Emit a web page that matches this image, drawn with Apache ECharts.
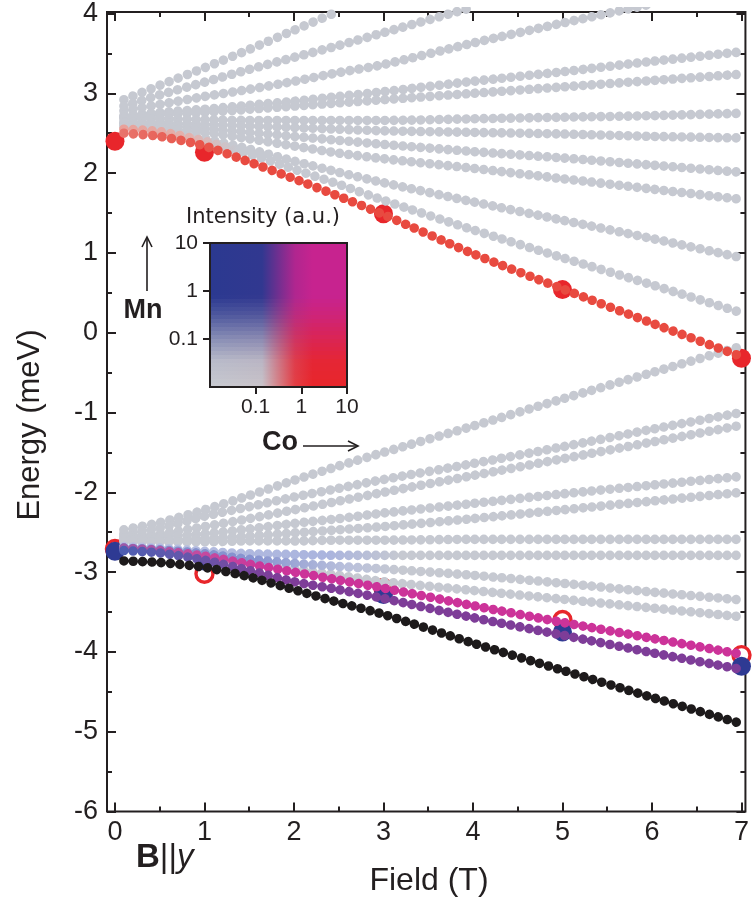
<!DOCTYPE html>
<html>
<head>
<meta charset="utf-8">
<script src="https://cdn.jsdelivr.net/npm/echarts@6.0.0/dist/echarts.min.js"></script>
<style>
  html, body { margin: 0; padding: 0; background: #fff; }
  #chart { width: 752px; height: 904px; }
</style>
</head>
<body>
<div id="chart"></div>
<script>
const fieldKnots = [0.1, 0.5, 1, 1.5, 2, 2.5, 3, 4, 5, 6, 7];

// upper manifold, energy (meV)
const up1  = [2.92, 3.10, 3.32, 3.55, 3.79, 4.03, null, null, null, null, null];
const up2  = [2.84, 2.98, 3.14, 3.30, 3.45, 3.60, 3.76, 4.08, null, null, null];
const up3  = [2.78, 2.86, 2.96, 3.05, 3.15, 3.26, 3.36, 3.63, 3.88, 4.12, null];
const up4  = [2.72, 2.76, 2.80, 2.85, 2.90, 2.96, 3.02, 3.15, 3.27, 3.40, 3.52];
const up5  = [2.70, 2.73, 2.76, 2.80, 2.84, 2.88, 2.92, 3.00, 3.08, 3.16, 3.24];
const up6  = [2.68, 2.68, 2.67, 2.66, 2.66, 2.66, 2.66, 2.68, 2.70, 2.72, 2.75];
const up7  = [2.64, 2.63, 2.61, 2.59, 2.57, 2.55, 2.53, 2.51, 2.49, 2.46, 2.44];
const up8  = [2.62, 2.60, 2.56, 2.51, 2.46, 2.41, 2.36, 2.27, 2.19, 2.10, 2.01];
const up9  = [2.60, 2.57, 2.51, 2.43, 2.34, 2.25, 2.18, 2.06, 1.93, 1.80, 1.67];
const up10 = [2.57, 2.53, 2.43, 2.30, 2.15, 2.01, 1.88, 1.64, 1.41, 1.18, 0.94];
const up11 = [2.55, 2.52, 2.40, 2.24, 2.05, 1.86, 1.66, 1.29, 0.94, 0.60, 0.25];
const coLevel = [2.50, 2.46, 2.34, 2.14, 1.93, 1.71, 1.48, 0.99, 0.55, 0.12, -0.30];

// lower manifold, energy (meV)
const low1 = [-2.47, -2.38, -2.22, -2.04, -1.85, -1.67, -1.50, -1.17, -0.83, -0.50, -0.17];
const low2 = [-2.52, -2.45, -2.30, -2.18, -2.06, -1.95, -1.84, -1.64, -1.43, -1.21, -1.00];
const low3 = [-2.55, -2.52, -2.43, -2.33, -2.22, -2.11, -2.00, -1.79, -1.58, -1.37, -1.16];
const low4 = [-2.58, -2.56, -2.52, -2.46, -2.39, -2.33, -2.26, -2.14, -2.02, -1.91, -1.80];
const low5 = [-2.60, -2.60, -2.58, -2.55, -2.51, -2.47, -2.43, -2.33, -2.22, -2.11, -2.00];
const low6 = [-2.62, -2.62, -2.62, -2.61, -2.61, -2.60, -2.60, -2.59, -2.59, -2.59, -2.59];
const low7 = [-2.68, -2.70, -2.74, -2.77, -2.78, -2.79, -2.79, -2.79, -2.79, -2.79, -2.79];
const low8 = [-2.70, -2.72, -2.77, -2.84, -2.89, -2.93, -2.96, -3.04, -3.14, -3.25, -3.35];
const low9 = [-2.71, -2.74, -2.80, -2.88, -2.96, -3.04, -3.12, -3.23, -3.34, -3.45, -3.56];
const magentaLevel = [-2.70, -2.73, -2.80, -2.90, -3.00, -3.10, -3.20, -3.42, -3.63, -3.83, -4.03];
const purpleLevel  = [-2.73, -2.76, -2.85, -2.98, -3.12, -3.22, -3.33, -3.57, -3.79, -4.01, -4.22];
const blackLevel   = [-2.86, -2.88, -2.94, -3.06, -3.22, -3.38, -3.53, -3.89, -4.23, -4.57, -4.90];

// measured peaks
const peakField = [0, 1, 3, 5, 7];
const coPeakUp  = [2.40, 2.26, 1.49, 0.54, -0.32];
const coPeakLow = [-2.71, -3.02, -3.20, -3.60, -4.04];
const mnPeakLow = [-2.74, -2.86, -3.28, -3.75, -4.18];

// tick labels
const fieldTicks = [0, 1, 2, 3, 4, 5, 6, 7];
const fieldMinor = [0.5, 1.5, 2.5, 3.5, 4.5, 5.5, 6.5];
const energyTicks = [-6, -5, -4, -3, -2, -1, 0, 1, 2, 3, 4];
const energyMinor = [-5.5, -4.5, -3.5, -2.5, -1.5, -0.5, 0.5, 1.5, 2.5, 3.5];
const keyTicks = [0.1, 1, 10];

const ink = '#231f20';
const font = '"Liberation Sans", Arial, Helvetica, sans-serif';
const grey = '#c6c9d1';

const pxPerTesla = 90, pxPerMeV = 80.5, dotStep = 9;

// keep one dot per 0.1 T whatever the slope
function dotGap(points) {
  let arc = 0, run = 0;
  for (let i = 1; i < points.length; i++) {
    const dx = (points[i][0] - points[i - 1][0]) * pxPerTesla;
    const dy = (points[i][1] - points[i - 1][1]) * pxPerMeV;
    arc += Math.hypot(dx, dy);
    run += dx;
  }
  return dotStep * arc / run;
}

function fade(stops) {
  return {
    type: 'linear', x: 0, y: 0, x2: 1, y2: 0,
    colorStops: stops.map(([b, c]) => ({ offset: (b - 0.1) / 6.9, color: c }))
  };
}

function level(values, color) {
  const data = fieldKnots.map((b, i) => [b, values[i]]).filter(p => p[1] !== null);
  return {
    type: 'line', data: data, smooth: 0.25,
    showSymbol: false, silent: true, xAxisIndex: 0, yAxisIndex: 0,
    lineStyle: { width: 9.6, color: color, type: [0.001, dotGap(data)], cap: 'round' }
  };
}

function peaks(values, style, size) {
  return {
    type: 'scatter', data: peakField.map((b, i) => [b, values[i]]),
    symbol: 'circle', symbolSize: size, clip: false, silent: true,
    xAxisIndex: 0, yAxisIndex: 0, itemStyle: Object.assign({ opacity: 1 }, style)
  };
}

// colour key: Co weight across, Mn weight upward
const keyBox = { x: 210, y: 243, w: 137, h: 144 };
const cGrey = [200, 202, 208], cRed = [232, 38, 43], cBlue = [43, 57, 144], cMag = [199, 35, 143];
const coWeight = [[0, 0], [0.38, 0.04], [0.5, 0.45], [0.62, 0.85], [0.75, 1], [1, 1]];
const mnWeight = [[0, 0], [0.18, 0.1], [0.33, 0.4], [0.5, 0.78], [0.63, 1], [1, 1]];

function interp(table, t) {
  for (let i = 1; i < table.length; i++) {
    if (t <= table[i][0]) {
      const [t0, w0] = table[i - 1], [t1, w1] = table[i];
      return w0 + (w1 - w0) * (t - t0) / (t1 - t0);
    }
  }
  return table[table.length - 1][1];
}

function keyStrips() {
  const n = 36, out = [];
  for (let i = 0; i < n; i++) {
    const wm = interp(mnWeight, 1 - (i + 0.5) / n);
    const stops = coWeight.map(([u, wc]) => {
      const rgb = [0, 1, 2].map(k => Math.round(
        (1 - wc) * (1 - wm) * cGrey[k] + wc * (1 - wm) * cRed[k] +
        (1 - wc) * wm * cBlue[k] + wc * wm * cMag[k]));
      return { offset: u, color: 'rgb(' + rgb.join(',') + ')' };
    });
    out.push({
      type: 'rect', z: 1, silent: true,
      shape: { x: keyBox.x, y: keyBox.y + i * keyBox.h / n, width: keyBox.w, height: keyBox.h / n + 0.6 },
      style: { fill: { type: 'linear', x: 0, y: 0, x2: 1, y2: 0, colorStops: stops } }
    });
  }
  return out;
}

function tickAxis(kind, position, values, len, labels) {
  const isX = kind === 'x';
  return {
    gridIndex: 0, type: 'value', position: position,
    min: isX ? -0.089 : -6, max: isX ? 7.044 : 4.02,
    axisLine: { show: false, onZero: false },
    splitLine: { show: false },
    axisTick: { show: true, inside: true, length: len, customValues: values,
      lineStyle: { color: ink, width: 2 } },
    axisLabel: labels ? { show: true, customValues: values, fontSize: 27, fontFamily: font,
      color: ink, margin: isX ? 8 : 9 } : { show: false }
  };
}

const chart = echarts.init(document.getElementById('chart'));

const option = {
  animation: false,
  backgroundColor: '#fff',
  grid: [
    { left: 107, right: 3, top: 5, bottom: 92.5, show: true, borderColor: ink, borderWidth: 2,
      backgroundColor: 'transparent' },
    { left: keyBox.x, top: keyBox.y, width: keyBox.w, height: keyBox.h, show: false }
  ],
  xAxis: [
    tickAxis('x', 'bottom', fieldTicks, 9, true),
    tickAxis('x', 'bottom', fieldMinor, 5, false),
    tickAxis('x', 'top', fieldTicks, 9, false),
    tickAxis('x', 'top', fieldMinor, 5, false),
    {
      gridIndex: 1, type: 'log', logBase: 10, min: 0.01, max: 10, position: 'bottom',
      axisLine: { show: false, onZero: false }, splitLine: { show: false },
      axisTick: { show: true, inside: false, length: 7, customValues: keyTicks,
        lineStyle: { color: ink, width: 2 } },
      axisLabel: { customValues: keyTicks, fontSize: 21, fontFamily: font, color: ink, margin: 10 }
    }
  ],
  yAxis: [
    tickAxis('y', 'left', energyTicks, 9, true),
    tickAxis('y', 'left', energyMinor, 5, false),
    tickAxis('y', 'right', energyTicks, 9, false),
    tickAxis('y', 'right', energyMinor, 5, false),
    {
      gridIndex: 1, type: 'log', logBase: 10, min: 0.01, max: 10, position: 'left',
      axisLine: { show: false, onZero: false }, splitLine: { show: false },
      axisTick: { show: true, inside: false, length: 7, customValues: keyTicks,
        lineStyle: { color: ink, width: 2 } },
      axisLabel: { customValues: keyTicks, fontSize: 21, fontFamily: font, color: ink, margin: 12 }
    }
  ],
  series: [
    level(up1, grey), level(up2, grey), level(up3, grey), level(up4, grey), level(up5, grey),
    level(up6, grey), level(up7, grey), level(up8, grey), level(up9, grey), level(up10, grey),
    level(low1, grey), level(low2, grey), level(low3, grey), level(low4, grey), level(low5, grey),
    level(low6, grey), level(low9, grey),
    level(up11, fade([[0.1, '#e9a098'], [0.9, '#e2b2ae'], [1.4, grey], [7, grey]])),
    level(low7, fade([[0.1, '#b9c0e0'], [2.4, '#aab4de'], [3.2, grey], [7, grey]])),
    level(low8, fade([[0.1, '#7f8dcc'], [1.6, '#8894d0'], [2.6, '#b9c0dc'], [3.2, grey], [7, grey]])),
    level(coLevel, fade([[0.1, '#e8756d'], [0.8, '#e85a50'], [1.5, '#e84a40'], [7, '#e84a40']])),
    level(magentaLevel, fade([[0.1, '#9b5aa8'], [1.0, '#c44b9f'], [1.8, '#cc3399'], [7, '#cc3399']])),
    level(purpleLevel, fade([[0.1, '#4d5fb2'], [1.0, '#6a55aa'], [1.8, '#7e3d98'], [7, '#7e3d98']])),
    level(blackLevel, '#1d1a1b'),
    peaks(coPeakLow, { color: '#fff', borderColor: '#e8262b', borderWidth: 3.4 }, 17),
    peaks(mnPeakLow, { color: '#2e3a93' }, 19),
    peaks(coPeakUp, { color: '#e8262b' }, 19)
  ],
  graphic: keyStrips().concat([
    { type: 'rect', z: 2, silent: true,
      shape: { x: keyBox.x, y: keyBox.y, width: keyBox.w, height: keyBox.h },
      style: { fill: null, stroke: ink, lineWidth: 2 } },
    { type: 'text', z: 10, x: 263, y: 218,
      style: { text: 'Intensity (a.u.)', align: 'center', verticalAlign: 'middle',
        font: '21px "DejaVu Sans", sans-serif', fill: ink } },
    { type: 'line', z: 10, shape: { x1: 147, y1: 291, x2: 147, y2: 238 },
      style: { stroke: ink, lineWidth: 1.6 } },
    { type: 'polyline', z: 10, shape: { points: [[142, 247], [147, 237], [152, 247]] },
      style: { stroke: ink, lineWidth: 1.6, fill: null } },
    { type: 'text', z: 10, x: 143, y: 311,
      style: { text: 'Mn', align: 'center', verticalAlign: 'middle',
        font: 'bold 27px ' + font, fill: ink } },
    { type: 'text', z: 10, x: 280, y: 443,
      style: { text: 'Co', align: 'center', verticalAlign: 'middle',
        font: 'bold 27px ' + font, fill: ink } },
    { type: 'line', z: 10, shape: { x1: 303, y1: 446, x2: 357, y2: 446 },
      style: { stroke: ink, lineWidth: 1.6 } },
    { type: 'polyline', z: 10, shape: { points: [[348, 441], [358, 446], [348, 451]] },
      style: { stroke: ink, lineWidth: 1.6, fill: null } },
    { type: 'text', z: 10, x: 136, y: 858,
      style: {
        text: '{b|B}{n|||}{i|y}', align: 'left', verticalAlign: 'middle',
        rich: {
          b: { fontFamily: font, fontSize: 33, fontWeight: 'bold', fill: ink },
          n: { fontFamily: font, fontSize: 33, fill: ink },
          i: { fontFamily: font, fontSize: 33, fontStyle: 'italic', fill: ink }
        }
      } },
    { type: 'text', z: 10, x: 30, y: 425, rotation: Math.PI / 2,
      style: { text: 'Energy (meV)', align: 'center', verticalAlign: 'middle',
        font: '31px ' + font, fill: ink } },
    { type: 'text', z: 10, x: 429, y: 881,
      style: { text: 'Field (T)', align: 'center', verticalAlign: 'middle',
        font: '32px ' + font, fill: ink } }
  ])
};

chart.setOption(option);
</script>
</body>
</html>
